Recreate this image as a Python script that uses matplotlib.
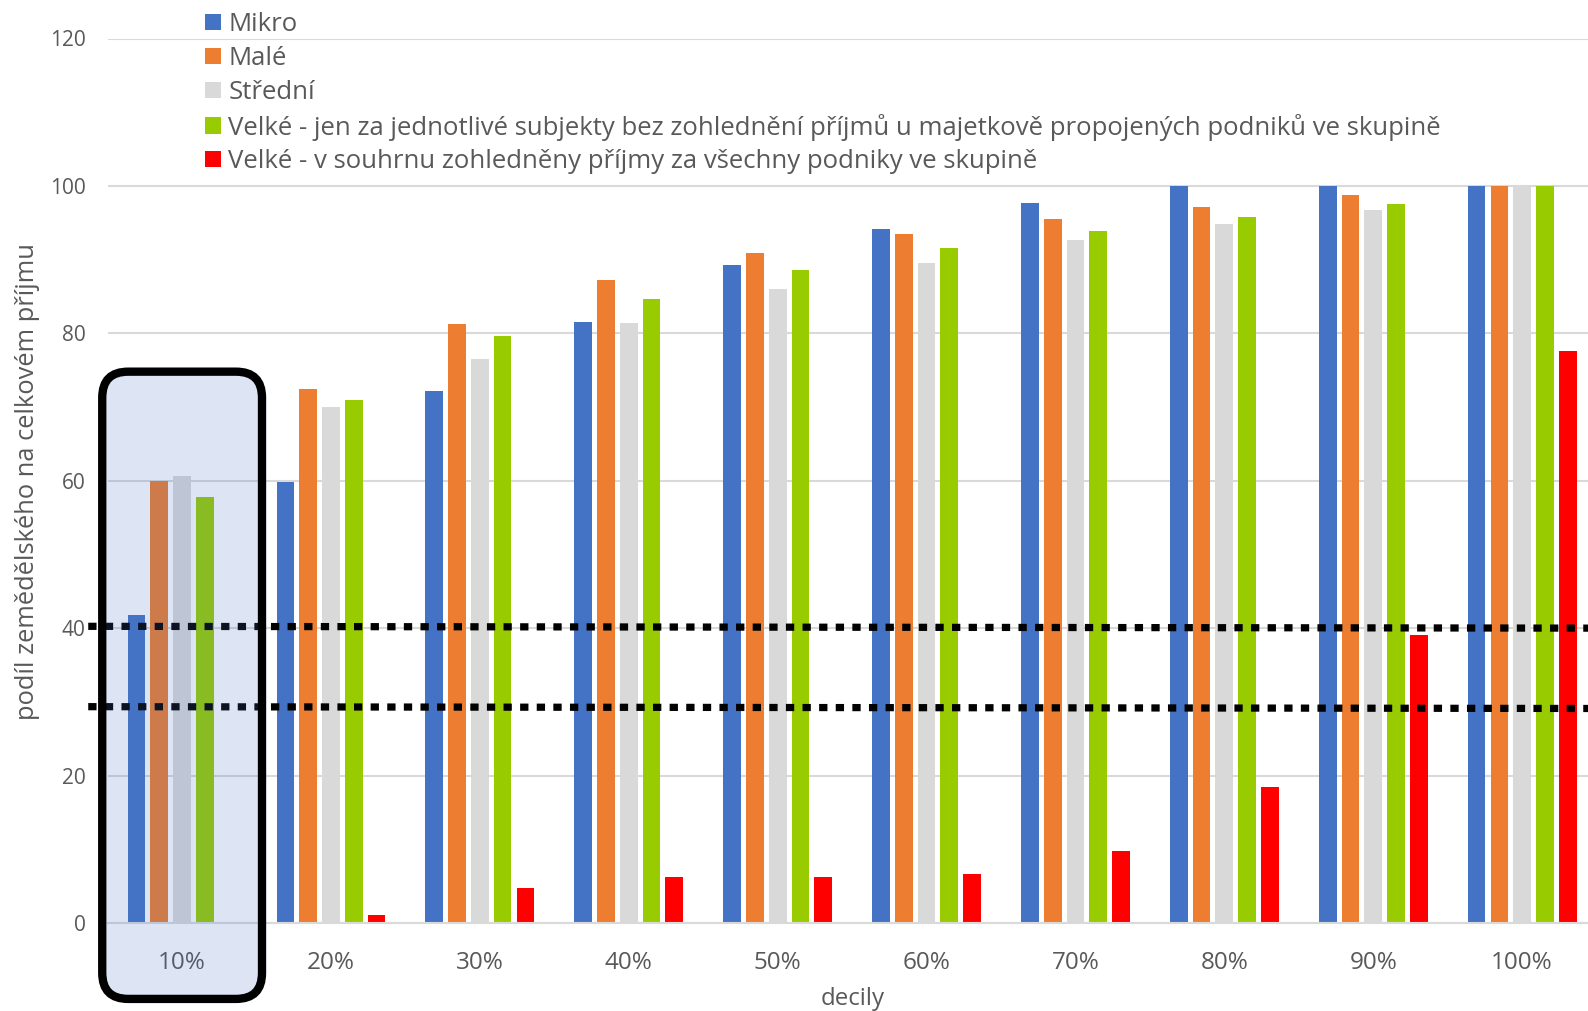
#### __import packages__ ####

import numpy as np
import matplotlib
matplotlib.use("Agg")
import matplotlib.pyplot as plt
from matplotlib.patches import FancyBboxPatch
from matplotlib.transforms import IdentityTransform


#### __data__ ####

decily = ["10%", "20%", "30%", "40%", "50%", "60%", "70%", "80%", "90%", "100%"]

mikro = [41.8, 59.8, 72.2, 81.6, 89.3, 94.1, 97.7, 100, 100, 100]
male = [60.0, 72.4, 81.3, 87.2, 90.9, 93.5, 95.5, 97.2, 98.8, 100]
stredni = [60.7, 70.0, 76.5, 81.4, 86.0, 89.5, 92.6, 94.9, 96.8, 100]
velke_jednotlive = [57.8, 71.0, 79.6, 84.7, 88.6, 91.6, 93.9, 95.8, 97.6, 100]
velke_skupina = [0, 1.1, 4.8, 6.3, 6.3, 6.7, 9.8, 18.4, 39.1, 77.6]

series_names = [
    "Mikro",
    "Malé",
    "Střední",
    "Velké - jen za jednotlivé subjekty bez zohlednění příjmů u majetkově propojených podniků ve skupině",
    "Velké - v souhrnu zohledněny příjmy za všechny podniky ve skupině",
]
series_colors = ["#4472C4", "#ED7D31", "#D9D9D9", "#99CC00", "#FF0000"]

# the two dotted reference levels (left end, right end)
level_upper = [40.25, 40.0]
level_lower = [29.35, 29.1]


#### __plot__ ####

plt.rcParams["font.family"] = ["Open Sans", "DejaVu Sans"]
text_grey = "#595959"

fig = plt.figure(figsize=(15.88, 10.11), dpi=100)
W, H = 1588, 1011
ax = fig.add_axes([107.6 / W, (H - 923) / H, 1489 / W, (923 - 38.5) / H])

x = np.arange(len(decily))
pitch = 0.153
width = 0.119
all_series = [mikro, male, stredni, velke_jednotlive, velke_skupina]
for i, (vals, name, col) in enumerate(zip(all_series, series_names, series_colors)):
    ax.bar(x + (i - 2) * pitch, vals, width=width, color=col, label=name, zorder=2)

ax.set_xlim(-0.5, len(decily) - 0.5)
ax.set_ylim(0, 120)
ax.set_yticks(np.arange(0, 121, 20))
ax.set_xticks(x)
ax.set_xticklabels(decily)
ax.grid(axis="y", color="#D9D9D9", linewidth=1.5, zorder=0)
ax.set_axisbelow(True)
for s in ["top", "right", "left"]:
    ax.spines[s].set_visible(False)
ax.spines["bottom"].set_color("#D9D9D9")
ax.spines["bottom"].set_linewidth(1.5)
ax.tick_params(axis="both", length=0, colors=text_grey)
ax.tick_params(axis="x", labelsize=17.5, pad=20)
ax.tick_params(axis="y", labelsize=15, pad=16)

# dotted reference lines
for lev in [level_upper, level_lower]:
    ax.plot([-0.63, 9.6], lev, color="black", linewidth=5.2,
            linestyle=(0, (1.15, 1.15)), dash_capstyle="butt",
            clip_on=False, zorder=5)

# highlight box around the first decile (pixel coords)
fig.canvas.draw()
x0, y0 = ax.transData.transform((-0.536, -10.3))
x1, y1 = ax.transData.transform((0.537, 74.8))
box = FancyBboxPatch((x0, y0), x1 - x0, y1 - y0,
                     boxstyle="round,pad=0,rounding_size=26",
                     facecolor=(0.27, 0.45, 0.77, 0.18), edgecolor="black",
                     linewidth=6, transform=IdentityTransform(), zorder=4)
fig.patches.append(box)

leg = ax.legend(loc="upper left", bbox_to_anchor=(190 / W, 1.003),
                bbox_transform=fig.transFigure, frameon=False, fontsize=18.5,
                handlelength=0.59, handleheight=0.59, handletextpad=0.3,
                labelspacing=0.34, borderaxespad=0.2)
for t in leg.get_texts():
    t.set_color(text_grey)

fig.text(27.4 / W, 0.524, "podíl zemědělského na celkovém příjmu", rotation=90,
         ha="center", va="center", fontsize=18.4, color=text_grey)
fig.text(853 / W, 0.012, "decily", ha="center", va="center", fontsize=17.3,
         color=text_grey)

plt.savefig("out.png", dpi=100)
